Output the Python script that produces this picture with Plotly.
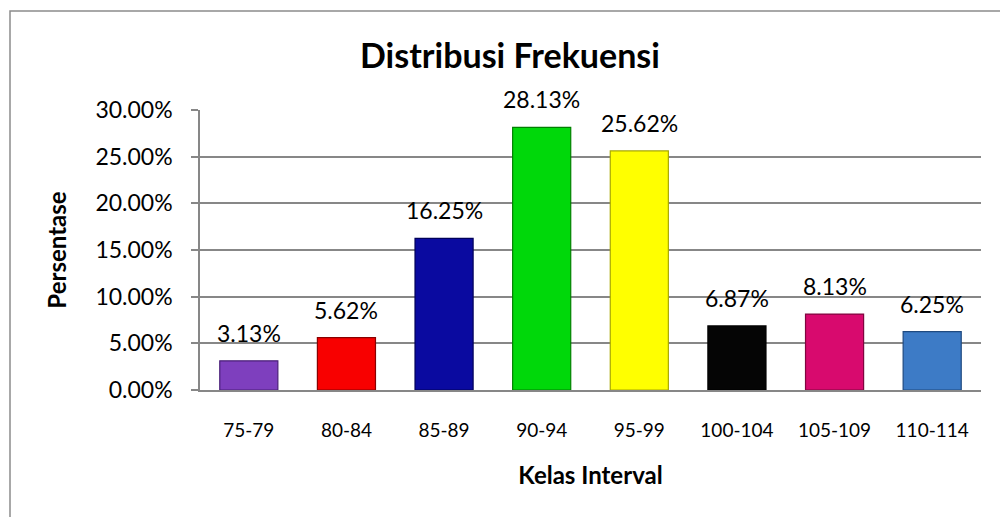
import plotly.graph_objects as go

categories = ["75-79", "80-84", "85-89", "90-94", "95-99", "100-104", "105-109", "110-114"]
percentages = [3.13, 5.62, 16.25, 28.13, 25.62, 6.87, 8.13, 6.25]
bar_colors = ["#7E3FBE", "#F80000", "#0A0AA0", "#00D80A", "#FFFF00", "#050505", "#D80A6E", "#3D7BC6"]
edge_colors = ["#4A1F78", "#8A0000", "#00005A", "#008000", "#A8A800", "#000000", "#80063F", "#1F4A80"]
y_ticks = [0, 5, 10, 15, 20, 25, 30]
y_tick_labels = ["0.00%", "5.00%", "10.00%", "15.00%", "20.00%", "25.00%", "30.00%"]

FONT = "Lato"
GRID = "#878787"

fig = go.Figure()
fig.add_trace(go.Bar(
    x=categories,
    y=percentages,
    marker=dict(color=bar_colors, line=dict(color=edge_colors, width=1.2)),
    showlegend=False,
    hoverinfo="x+y",
))

for c, v in zip(categories, percentages):
    fig.add_annotation(
        x=c, y=v, text=f"{v:.2f}%", showarrow=False,
        yanchor="bottom", yshift=12,
        font=dict(family=FONT, size=23, color="#000000"),
    )

# chart-area border (Excel style)
fig.add_shape(type="rect", xref="paper", yref="paper",
              x0=(10 - 200) / 781, x1=1.2, y0=-1.0, y1=(390 - 11) / 280,
              line=dict(color="#8C8C8C", width=1.5), fillcolor="rgba(0,0,0,0)", layer="below")

fig.update_layout(
    width=1000, height=517,
    margin=dict(l=200, r=19, t=110, b=127),
    paper_bgcolor="white", plot_bgcolor="white",
    bargap=0.405,
    title=dict(text="<b>Distribusi Frekuensi</b>", x=0.51, xanchor="center",
               y=1 - 56 / 517, yanchor="middle", yref="container",
               font=dict(family=FONT, size=34, color="#000000")),
    font=dict(family=FONT, color="#000000"),
)
fig.update_xaxes(
    range=[-0.5, 7.5],
    showline=True, linecolor=GRID, linewidth=1.5,
    ticks="", showgrid=False,
    tickfont=dict(family=FONT, size=19, color="#000000"),
    ticklabelstandoff=22,
    title=dict(text="<b>Kelas Interval</b>", font=dict(family=FONT, size=24, color="#000000"), standoff=28),
)
fig.update_yaxes(
    range=[0, 30],
    tickvals=y_ticks, ticktext=y_tick_labels,
    showline=True, linecolor=GRID, linewidth=1.5,
    ticks="outside", ticklen=7, tickcolor=GRID, tickwidth=1.5,
    showgrid=True, gridcolor=GRID, gridwidth=1.5,
    zeroline=False,
    tickfont=dict(family=FONT, size=23, color="#000000"),
    ticklabelstandoff=14,
    title=dict(text="<b>Persentase</b>", font=dict(family=FONT, size=24, color="#000000"), standoff=22),
)

fig.write_html(
    "out.html",
    config={"displayModeBar": False},
    post_script="document.body.style.margin='0';document.body.style.overflow='hidden';",
)
